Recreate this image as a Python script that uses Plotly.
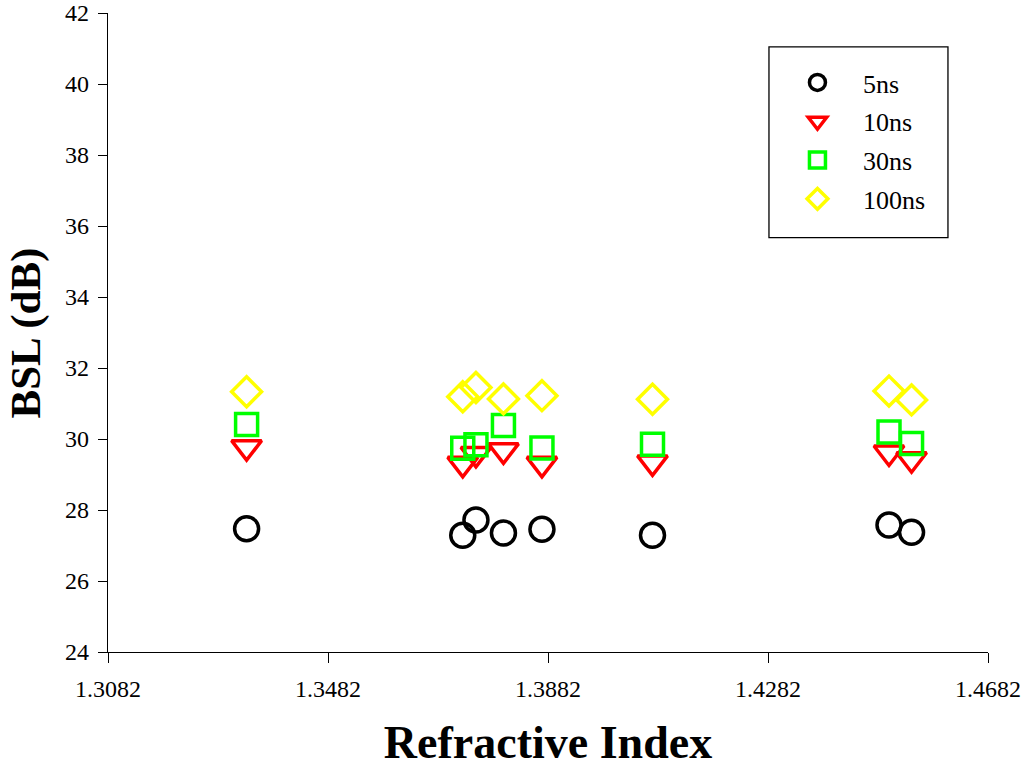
import plotly.graph_objects as go

refractive_index = [1.3334, 1.3727, 1.3751, 1.3801, 1.3871, 1.4072, 1.4502, 1.4543]
bsl_5ns = [27.47, 27.29, 27.72, 27.35, 27.46, 27.29, 27.58, 27.37]
bsl_10ns = [29.77, 29.30, 29.58, 29.68, 29.30, 29.34, 29.62, 29.43]
bsl_30ns = [30.41, 29.74, 29.84, 30.38, 29.75, 29.85, 30.20, 29.87]
bsl_100ns = [31.33, 31.19, 31.45, 31.13, 31.22, 31.12, 31.35, 31.10]

series_names = ["5ns", "10ns", "30ns", "100ns"]
series_values = [bsl_5ns, bsl_10ns, bsl_30ns, bsl_100ns]
symbols = ["circle-open", "triangle-down-open", "square-open", "diamond-open"]
colors = ["#000000", "#FF0000", "#00FF00", "#FFFF00"]
sizes = [24, 26, 22, 23]

x_ticks = [1.3082, 1.3482, 1.3882, 1.4282, 1.4682]
y_ticks = [24, 26, 28, 30, 32, 34, 36, 38, 40, 42]

FONT = "Liberation Serif"

fig = go.Figure()
for name, vals, sym, col, sz in zip(series_names, series_values, symbols, colors, sizes):
    fig.add_trace(go.Scatter(
        x=refractive_index, y=vals, mode="markers", name=name, legendgroup=name,
        marker=dict(symbol=sym, size=sz, color=col, line=dict(color=col, width=3.5)),
    ))

# legend frame (decoration)
fig.add_shape(type="rect", xref="paper", yref="paper",
              x0=0.7511, x1=0.9545, y0=0.6485, y1=0.9469,
              line=dict(color="black", width=1.3), fillcolor="white", layer="below")

# y-axis title as annotation for precise placement
fig.add_annotation(text="<b>BSL (dB)</b>", textangle=-90, xref="paper", yref="paper",
                   x=-0.0932, y=0.5, xanchor="center", yanchor="middle", showarrow=False,
                   font=dict(family=FONT, size=43, color="black"))

fig.update_layout(
    width=1024, height=768,
    margin=dict(l=108, r=36, t=13, b=116, autoexpand=False),
    paper_bgcolor="white", plot_bgcolor="white",
    font=dict(family=FONT, color="black", size=24),
    showlegend=True,
    legend=dict(
        x=0.7545, y=0.928, xanchor="left", yanchor="top",
        borderwidth=0, bgcolor="rgba(0,0,0,0)",
        font=dict(family=FONT, size=26, color="black"),
        itemwidth=81, tracegroupgap=2,
    ),
    xaxis=dict(
        range=[1.3082, 1.4682], tickvals=x_ticks,
        ticktext=[f"{v:.4f}" for v in x_ticks],
        showline=True, linecolor="black", linewidth=1.3, mirror=False,
        ticks="outside", ticklen=10, tickwidth=1.3, tickcolor="black",
        showgrid=False, zeroline=False, ticklabeloverflow="allow", automargin=False,
        tickfont=dict(family=FONT, size=24, color="black"), ticklabelstandoff=5,
        title=dict(text="<b>Refractive Index</b>", font=dict(family=FONT, size=46), standoff=32),
    ),
    yaxis=dict(
        range=[24, 42], tickvals=y_ticks,
        showline=True, linecolor="black", linewidth=1.3, mirror=False,
        ticks="outside", ticklen=9, tickwidth=1.3, tickcolor="black",
        showgrid=False, zeroline=False, ticklabeloverflow="allow", automargin=False,
        tickfont=dict(family=FONT, size=24, color="black"), ticklabelstandoff=4,
    ),
)

fig.write_html("out.html", config={"displayModeBar": False},
               post_script="document.body.style.margin='0';")
